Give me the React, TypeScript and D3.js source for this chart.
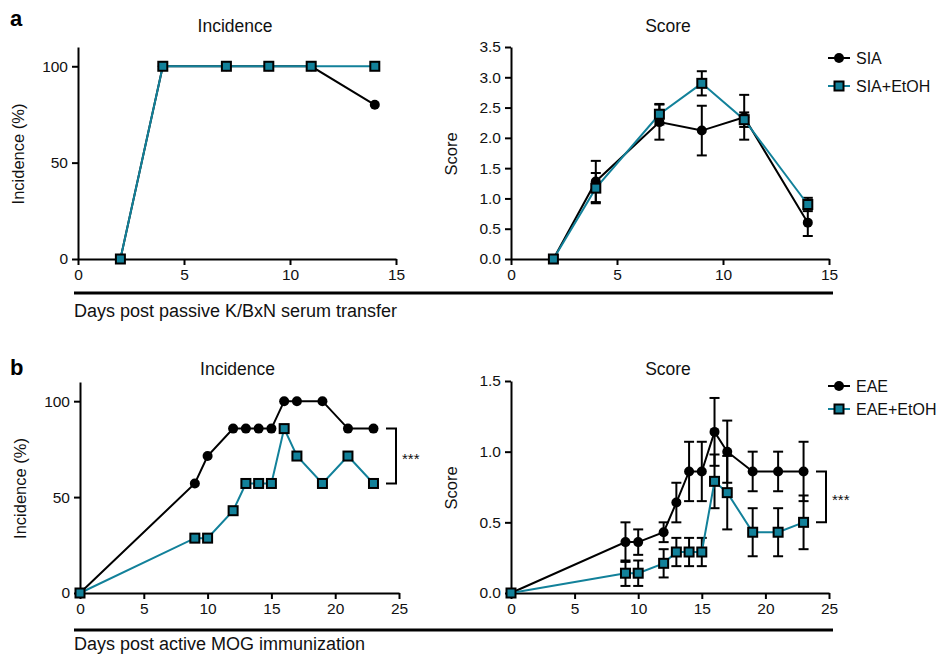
import * as d3 from "d3";
import { useEffect, useRef } from "react";

const TEAL = "#12819a";
const FONT = "'Liberation Sans', Arial, sans-serif";

// panel a: K/BxN serum transfer
const diasA = [2, 4, 7, 9, 11, 14];
const incSIA = [0, 100, 100, 100, 100, 80];
const incSIAEtOH = [0, 100, 100, 100, 100, 100];
const scoreSIA = [0, 1.28, 2.26, 2.12, 2.34, 0.6];
const errSIA = [0, 0.34, 0.29, 0.41, 0.37, 0.22];
const scoreSIAEtOH = [0, 1.17, 2.39, 2.9, 2.3, 0.9];
const errSIAEtOH = [0, 0.25, 0.17, 0.2, 0.12, 0.11];

// panel b: MOG immunization
const diasB = [0, 9, 10, 12, 13, 14, 15, 16, 17, 19, 21, 23];
const incEAE = [0, 57.1, 71.4, 85.7, 85.7, 85.7, 85.7, 100, 100, 100, 85.7, 85.7];
const incEAEEtOH = [0, 28.6, 28.6, 42.9, 57.1, 57.1, 57.1, 85.7, 71.4, 57.1, 71.4, 57.1];
const scoreEAE = [0, 0.36, 0.36, 0.43, 0.64, 0.86, 0.86, 1.14, 1.0, 0.86, 0.86, 0.86];
const errEAE = [0, 0.14, 0.09, 0.07, 0.14, 0.21, 0.21, 0.24, 0.22, 0.14, 0.14, 0.21];
const scoreEAEEtOH = [0, 0.14, 0.14, 0.21, 0.29, 0.29, 0.29, 0.79, 0.71, 0.43, 0.43, 0.5];
const errEAEEtOH = [0, 0.09, 0.09, 0.1, 0.1, 0.1, 0.1, 0.19, 0.26, 0.17, 0.17, 0.19];

const legendA = ["SIA", "SIA+EtOH"];
const legendB = ["EAE", "EAE+EtOH"];

type Serie = { y: number[]; err?: number[]; color: string; shape: "circle" | "square" };

type PanelCfg = {
  x0: number; x1: number; y0: number; y1: number;
  xMax: number; xTicks: number[];
  yMax: number; yTicks: number[]; yFmt: (v: number) => string;
  title: string; titleY: number; yLabel: string;
  dias: number[]; series: Serie[];
  legend?: string[]; legendY?: number; legendGap?: number;
  bracket?: [number, number];
};

function dibujarPanel(svg: d3.Selection<SVGSVGElement, unknown, null, undefined>, p: PanelCfg) {
  const x = d3.scaleLinear().domain([0, p.xMax]).range([p.x0, p.x1]);
  const y = d3.scaleLinear().domain([0, p.yMax]).range([p.y0, p.y1]);
  const g = svg.append("g");

  const ejeX = g.append("g")
    .attr("transform", `translate(0,${p.y0})`)
    .call(d3.axisBottom(x).tickValues(p.xTicks).tickSize(6).tickSizeOuter(0).tickPadding(4));
  const ejeY = g.append("g")
    .attr("transform", `translate(${p.x0},0)`)
    .call(d3.axisLeft(y).tickValues(p.yTicks).tickFormat(p.yFmt as any).tickSize(6).tickSizeOuter(0).tickPadding(4));
  [ejeX, ejeY].forEach((e) => {
    e.selectAll("path, line").attr("stroke", "#000").attr("stroke-width", 2);
    e.selectAll("text").attr("fill", "#111").style("font-family", FONT).style("font-size", "15.5px");
  });

  g.append("text")
    .attr("x", (p.x0 + p.x1) / 2 - 2).attr("y", p.titleY)
    .attr("text-anchor", "middle")
    .style("font-family", FONT).style("font-size", "17.5px").attr("fill", "#111")
    .text(p.title);

  g.append("text")
    .attr("transform", `translate(${p.x0 - 54},${(p.y0 + p.y1) / 2 + 1}) rotate(-90)`)
    .attr("text-anchor", "middle")
    .style("font-family", FONT).style("font-size", "16.5px").attr("fill", "#111")
    .text(p.yLabel);

  // barras de error primero
  p.series.forEach((s) => {
    if (!s.err) return;
    p.dias.forEach((d, i) => {
      const e = s.err![i];
      if (!e) return;
      const cx = x(d);
      const yt = y(s.y[i] + e), yb = y(Math.max(0, s.y[i] - e));
      g.append("line").attr("x1", cx).attr("x2", cx).attr("y1", yt).attr("y2", yb)
        .attr("stroke", "#000").attr("stroke-width", 2);
      [yt, yb].forEach((yy) =>
        g.append("line").attr("x1", cx - 5).attr("x2", cx + 5).attr("y1", yy).attr("y2", yy)
          .attr("stroke", "#000").attr("stroke-width", 2));
    });
  });

  const linea = d3.line<number>().x((_, i) => x(p.dias[i])).y((v) => y(v));
  p.series.forEach((s) => {
    g.append("path").attr("d", linea(s.y)).attr("fill", "none")
      .attr("stroke", s.color).attr("stroke-width", 2);
  });

  p.series.forEach((s) => {
    p.dias.forEach((d, i) => marcador(g, s.shape, x(d), y(s.y[i])));
  });

  if (p.legend) {
    p.series.forEach((s, i) => {
      const ly = p.legendY! + i * (p.legendGap ?? 28);
      g.append("line").attr("x1", p.x1 - 1).attr("x2", p.x1 + 21).attr("y1", ly).attr("y2", ly)
        .attr("stroke", s.color).attr("stroke-width", 2);
      marcador(g, s.shape, p.x1 + 10, ly);
      g.append("text").attr("x", p.x1 + 27).attr("y", ly + 6)
        .style("font-family", FONT).style("font-size", "16px").attr("fill", "#111")
        .text(p.legend![i]);
    });
  }

  if (p.bracket) {
    const bx = p.x1 - 13;
    const [a, b] = p.bracket.map((v) => y(v));
    g.append("path")
      .attr("d", `M${bx},${a}H${bx + 10}V${b}H${bx}`)
      .attr("fill", "none").attr("stroke", "#000").attr("stroke-width", 2);
    g.append("text").attr("x", bx + 16).attr("y", (a + b) / 2 + 8)
      .style("font-family", FONT).style("font-size", "15px").attr("fill", "#111")
      .text("***");
  }
}

function marcador(g: d3.Selection<SVGGElement, unknown, null, undefined>, shape: string, cx: number, cy: number) {
  if (shape === "circle") {
    g.append("circle").attr("cx", cx).attr("cy", cy).attr("r", 5).attr("fill", "#000");
  } else {
    g.append("rect").attr("x", cx - 4.5).attr("y", cy - 4.5).attr("width", 9).attr("height", 9)
      .attr("fill", TEAL).attr("stroke", "#000").attr("stroke-width", 2);
  }
}

export default function App() {
  const ref = useRef<SVGSVGElement>(null);

  useEffect(() => {
    if (!ref.current) return;
    const svg = d3.select(ref.current);
    svg.selectAll("*").remove();

    const f1 = d3.format(".1f");
    const ent = (v: number) => String(v);

    dibujarPanel(svg, {
      x0: 78, x1: 396, y0: 259, y1: 47, xMax: 15, xTicks: [0, 5, 10, 15],
      yMax: 110, yTicks: [0, 50, 100], yFmt: ent,
      title: "Incidence", titleY: 32, yLabel: "Incidence (%)", dias: diasA,
      series: [
        { y: incSIA, color: "#000", shape: "circle" },
        { y: incSIAEtOH, color: TEAL, shape: "square" },
      ],
    });
    dibujarPanel(svg, {
      x0: 511, x1: 829, y0: 259, y1: 47, xMax: 15, xTicks: [0, 5, 10, 15],
      yMax: 3.5, yTicks: [0, 0.5, 1, 1.5, 2, 2.5, 3, 3.5], yFmt: f1,
      title: "Score", titleY: 32, yLabel: "Score", dias: diasA,
      series: [
        { y: scoreSIA, err: errSIA, color: "#000", shape: "circle" },
        { y: scoreSIAEtOH, err: errSIAEtOH, color: TEAL, shape: "square" },
      ],
      legend: legendA, legendY: 58, legendGap: 28,
    });
    dibujarPanel(svg, {
      x0: 80, x1: 399, y0: 593, y1: 382, xMax: 25, xTicks: [0, 5, 10, 15, 20, 25],
      yMax: 110, yTicks: [0, 50, 100], yFmt: ent,
      title: "Incidence", titleY: 375, yLabel: "Incidence (%)", dias: diasB,
      series: [
        { y: incEAE, color: "#000", shape: "circle" },
        { y: incEAEEtOH, color: TEAL, shape: "square" },
      ],
      bracket: [85.7, 57.1],
    });
    dibujarPanel(svg, {
      x0: 511, x1: 829, y0: 593, y1: 381, xMax: 25, xTicks: [0, 5, 10, 15, 20, 25],
      yMax: 1.5, yTicks: [0, 0.5, 1, 1.5], yFmt: f1,
      title: "Score", titleY: 375, yLabel: "Score", dias: diasB,
      series: [
        { y: scoreEAE, err: errEAE, color: "#000", shape: "circle" },
        { y: scoreEAEEtOH, err: errEAEEtOH, color: TEAL, shape: "square" },
      ],
      legend: legendB, legendY: 386, legendGap: 23,
      bracket: [0.86, 0.5],
    });

    // líneas de eje x común y etiquetas
    [[293, 317, "Days post passive K/BxN serum transfer"], [630, 650, "Days post active MOG immunization"]].forEach(([yy, ty, t]) => {
      svg.append("line").attr("x1", 74).attr("x2", 833).attr("y1", yy as number).attr("y2", yy as number)
        .attr("stroke", "#000").attr("stroke-width", 3);
      svg.append("text").attr("x", 74).attr("y", ty as number)
        .style("font-family", FONT).style("font-size", "18px").attr("fill", "#111")
        .text(t as string);
    });

    [[10, 26, "a"], [10, 375, "b"]].forEach(([xx, yy, t]) => {
      svg.append("text").attr("x", xx as number).attr("y", yy as number)
        .style("font-family", FONT).style("font-size", "22px").style("font-weight", "bold")
        .text(t as string);
    });
  }, []);

  return (
    <svg ref={ref} width={936} height={656}
      style={{ position: "absolute", left: 0, top: 0, background: "#fff" }} />
  );
}
